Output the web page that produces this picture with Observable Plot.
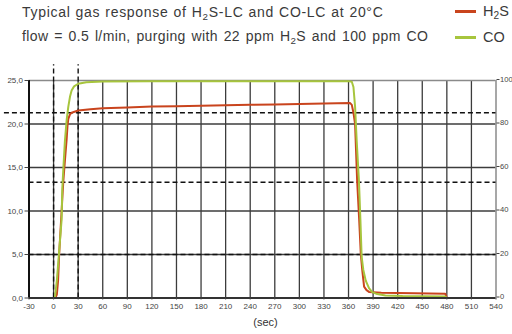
<!DOCTYPE html>
<html>
<head>
<meta charset="utf-8">
<script src="https://cdn.jsdelivr.net/npm/d3@7"></script>
<script src="https://cdn.jsdelivr.net/npm/@observablehq/plot@0.6"></script>
<style>
  html, body { margin: 0; padding: 0; background: #fff; }
  #wrap { position: relative; width: 512px; height: 334px; font-family: "Liberation Sans", Arial, sans-serif; color: #3a3a3a; }
  #title { position: absolute; left: 22px; top: 1px; font-size: 14px; line-height: 23px; white-space: nowrap; }
  #t1 { letter-spacing: 0.7px; word-spacing: 0.5px; }
  #t2 { letter-spacing: 0.38px; word-spacing: 1.5px; }
  .sub { font-size: 70%; position: relative; top: 0.3em; }
  .leg { position: absolute; left: 455px; font-size: 14.5px; white-space: nowrap; }
  .leg span.sw { display: inline-block; width: 21px; height: 3px; vertical-align: middle; margin-right: 7px; position: relative; top: -1px; }
  #chart { position: absolute; left: 0; top: 0; }
</style>
</head>
<body>
<div id="wrap">
  <div id="chart"></div>
  <div id="title"><span id="t1">Typical gas response of H<span class="sub">2</span>S-LC and CO-LC at 20°C</span><br><span id="t2">flow = 0.5 l/min, purging with 22 ppm H<span class="sub">2</span>S and 100 ppm CO</span></div>
  <div class="leg" style="top:3px"><span class="sw" style="background:#c9441d"></span>H<span class="sub">2</span>S</div>
  <div class="leg" style="top:29px"><span class="sw" style="background:#a7c53d"></span>CO</div>
</div>
<script>
// H2S response (left axis, ppm)
const h2sTime = [-15, 2, 4, 5.5, 6.8, 9.8, 11.8, 14, 16, 17, 18, 20, 22, 30, 45, 60, 90, 120, 150, 180, 210, 240, 270, 300, 330, 362, 364, 366, 368, 370.5, 373, 375, 377, 379, 382, 385, 400, 440, 478, 480];
const h2sValue = [0, 0, 0.4, 2, 5, 10, 13.3, 16, 18.3, 19.8, 20.6, 21.1, 21.3, 21.55, 21.7, 21.8, 21.9, 22.0, 22.05, 22.1, 22.15, 22.2, 22.25, 22.3, 22.35, 22.4, 22.2, 21.3, 20, 13.5, 9, 5, 3, 1.3, 0.9, 0.7, 0.6, 0.55, 0.5, 0];
// CO response (right axis, ppm)
const coTime = [-15, 1.5, 4, 6.5, 9.8, 10.6, 12, 13.8, 16, 18, 20, 22, 25, 30, 40, 60, 120, 240, 361, 364, 366, 368, 370, 372.7, 374.5, 376, 378, 381, 385, 389, 395, 405, 426, 450, 478, 480];
const coValue = [0, 0, 8, 20, 36, 50, 60, 72, 82, 88, 92.5, 95.4, 97.3, 98.5, 99.2, 99.5, 99.6, 99.6, 99.6, 99.4, 97, 88, 72, 54, 36, 19, 13, 8, 4.5, 2.7, 1.8, 1.2, 0.9, 0.8, 0.7, 0];
// reference lines
const markerTimes = [0, 30];
const markerLevels = [21.3, 13.3, 5];
const xTicks = d3.range(-30, 541, 30);
const leftTicks = [0, 5, 10, 15, 20, 25];
const rightTicks = [0, 20, 40, 60, 80, 100];

const h2s = h2sTime.map((t, i) => ({t, v: h2sValue[i]}));
const co = coTime.map((t, i) => ({t, v: coValue[i]}));

const grid = "#3c3c3c";
const plot = Plot.plot({
  width: 512,
  height: 334,
  marginLeft: 28.5,
  marginRight: 16.5,
  marginTop: 80,
  marginBottom: 36.5,
  style: {fontFamily: "Liberation Sans, Arial, sans-serif", fontSize: "8px", color: "#444", background: "white", overflow: "visible"},
  x: {domain: [-30, 540]},
  y: {domain: [0, 25]},
  marks: [
    Plot.ruleX(xTicks.filter(d => d > -30 && d < 540), {stroke: grid, strokeWidth: 1.3}),
    Plot.ruleY(leftTicks.filter(d => d > 0 && d < 25), {stroke: grid, strokeWidth: 1.3}),
    Plot.ruleY([25], {stroke: "#8a8a8a", strokeWidth: 1.5}),
    Plot.ruleX([540], {stroke: "#8a8a8a", strokeWidth: 1.5}),
    Plot.ruleX(markerTimes, {y1: 0, y2: 26.8, stroke: "#111", strokeWidth: 1.4, strokeDasharray: "5,3"}),
    Plot.ruleY(markerLevels.slice(0, 1), {x1: -60, x2: 540, stroke: "#111", strokeWidth: 1.4, strokeDasharray: "5,3"}),
    Plot.ruleY(markerLevels.slice(1), {x1: -30, x2: 540, stroke: "#111", strokeWidth: 1.4, strokeDasharray: "5,3"}),
    Plot.line(h2s, {x: "t", y: "v", stroke: "#c9441d", strokeWidth: 2}),
    Plot.line(co, {x: "t", y: d => d.v / 4, stroke: "#a7c53d", strokeWidth: 2}),
    Plot.ruleY([0], {stroke: "#333", strokeWidth: 2}),
    Plot.ruleX([-30], {stroke: "#111", strokeWidth: 2}),
    Plot.axisX({ticks: xTicks, tickSize: 2, tickPadding: 3.5, label: null, tickFormat: d => String(d)}),
    Plot.axisY({ticks: leftTicks, anchor: "left", tickSize: 4, tickPadding: 2, label: null, tickFormat: d => d3.format(".1f")(d).replace(".", ",")}),
    Plot.axisY({ticks: rightTicks.map(d => d / 4), anchor: "right", tickSize: 3, tickPadding: 1, fontSize: 7.6, dy: -1, label: null, tickFormat: d => String(d * 4)}),
    Plot.text(["(sec)"], {frameAnchor: "bottom", dy: 28, fontSize: 11, fill: "#333", dx: 3})
  ]
});
document.getElementById("chart").appendChild(plot);
</script>
</body>
</html>
